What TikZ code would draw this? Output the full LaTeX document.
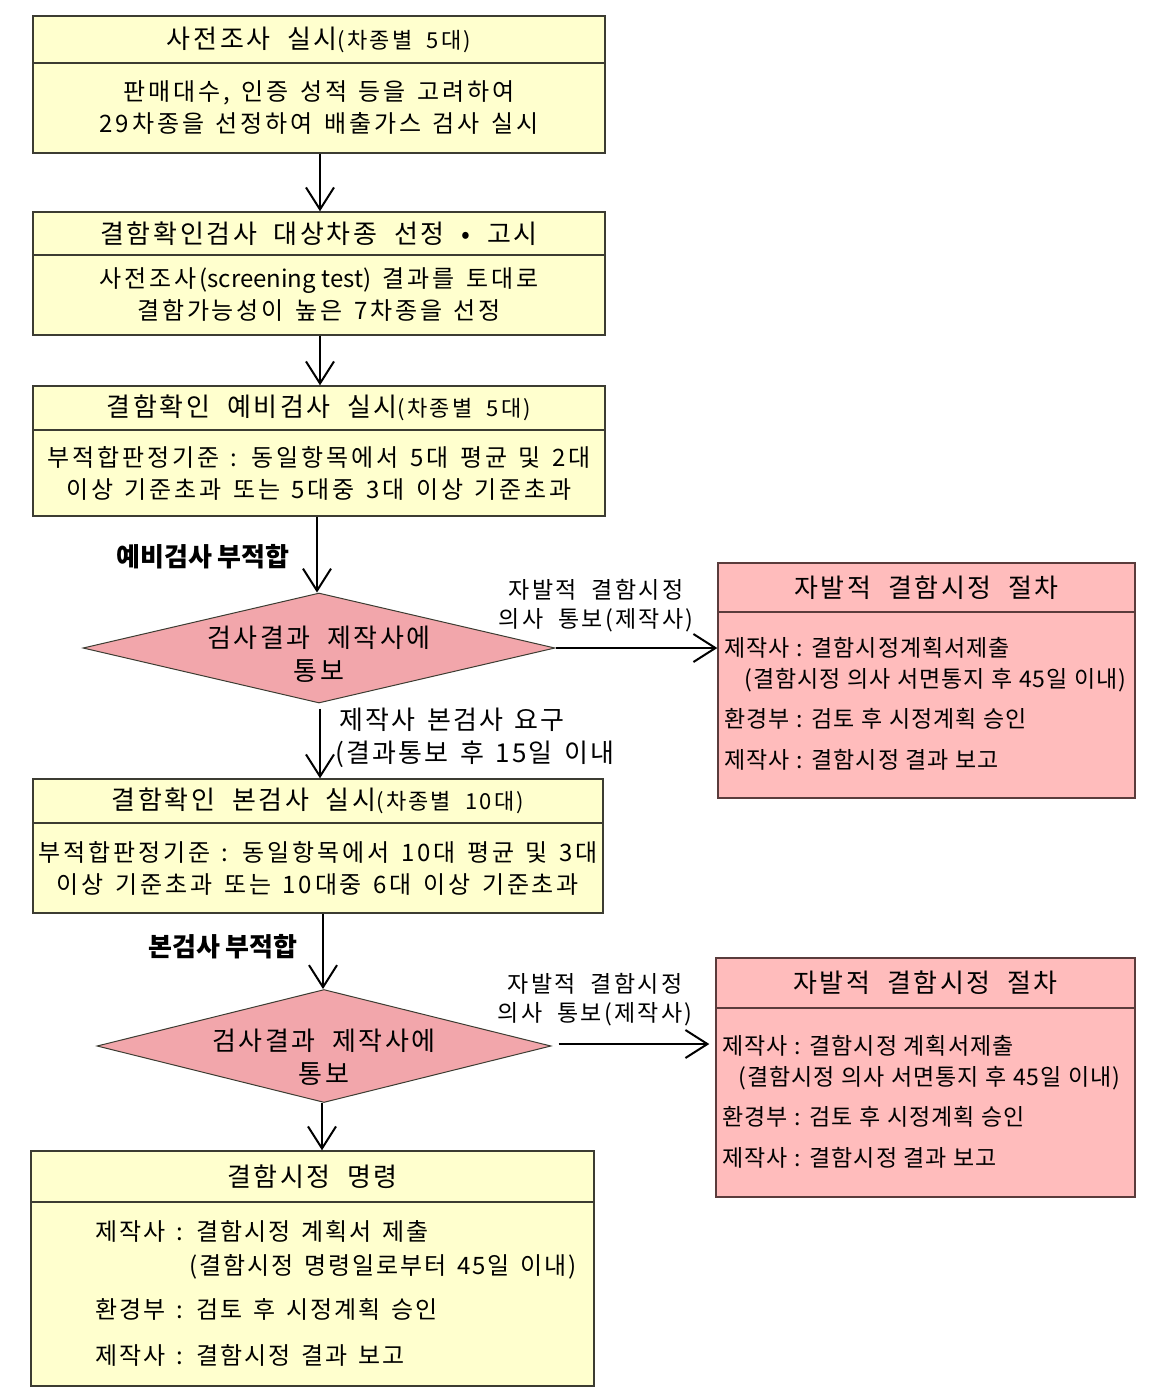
\documentclass[tikz,border=0pt]{standalone}
\usepackage{fontspec}
\setmainfont{Noto Sans CJK KR}
\newfontfamily\krbody[LetterSpace=12,WordSpace=1.4]{Noto Sans CJK KR}
\newfontfamily\krwide[LetterSpace=10,WordSpace=2]{Noto Sans CJK KR}
\newfontfamily\krlist[LetterSpace=4,WordSpace=1.1]{Noto Sans CJK KR}
\newfontfamily\krorder[LetterSpace=8,WordSpace=1.5]{Noto Sans CJK KR}
\usetikzlibrary{shapes}
\usetikzlibrary{arrows.meta}
\usetikzlibrary{calc}
\definecolor{FCYellow}{RGB}{255,255,206}
\definecolor{FCPink}{RGB}{255,188,188}
\definecolor{FCDia}{RGB}{242,166,171}
\definecolor{FCLine}{RGB}{60,60,50}
\definecolor{FCPinkLine}{RGB}{90,60,60}

\begin{document}
\begin{tikzpicture}[x=0.5pt,y=-0.5pt,
		box/.style={draw=FCLine,line width=0.7pt,inner sep=0pt,align=center},
		ybox/.style={box,fill=FCYellow},
		pbox/.style={box,draw=FCPinkLine,fill=FCPink},
		dia/.style={diamond,draw=FCLine,line width=0.5pt,fill=FCDia,inner sep=0pt},
		titletext/.style={font=\krwide\fontsize{13}{16.5}\selectfont},
		bodytext/.style={font=\krbody\fontsize{12}{16}\selectfont},
		listtext/.style={font=\krlist\fontsize{11.5}{15.5}\selectfont,inner sep=0pt,align=left,anchor=west},
		notetext/.style={font=\krwide\fontsize{11.5}{14.5}\selectfont,align=center},
		failtext/.style={font=\bfseries\fontsize{13}{15}\selectfont},
		flow/.style={line width=1pt,-{Straight Barb[length=11pt,width=14pt]}},
	]
	\useasboundingbox (0,0) rectangle (1154,1394);
	
	% main column
	\node[ybox,titletext,minimum width=286pt,minimum height=23.5pt] (t1) at (319,39.5) {사전조사 실시{\fontsize{11}{12}\selectfont(차종별 5대)}};
	\node[ybox,bodytext,minimum width=286pt,minimum height=45pt] (b1) at (319,108) {판매대수, 인증 성적 등을 고려하여\\29차종을 선정하여 배출가스 검사 실시};
	
	\node[ybox,titletext,minimum width=286pt,minimum height=21.5pt] (t2) at (319,233.5) {결함확인검사 대상차종 선정 • 고시};
	\node[ybox,bodytext,minimum width=286pt,minimum height=40pt] (b2) at (319,295) {사전조사({\normalfont screening test}) 결과를 토대로\\결함가능성이 높은 7차종을 선정};
	
	\node[ybox,titletext,minimum width=286pt,minimum height=22pt] (t3) at (319,408) {결함확인 예비검사 실시{\fontsize{11}{12}\selectfont(차종별 5대)}};
	\node[ybox,bodytext,minimum width=286pt,minimum height=43pt] (b3) at (319,473) {부적합판정기준 : 동일항목에서 5대 평균 및 2대\\이상 기준초과 또는 5대중 3대 이상 기준초과};
	
	\node[dia,minimum width=236pt,minimum height=55pt] (d1) at (319,648) {};
	\node[titletext,align=center] (d1txt) at ($(d1)+(0,6)$) {검사결과 제작사에\\통보};
	
	\node[ybox,titletext,minimum width=285pt,minimum height=22pt] (t4) at (318,801) {결함확인 본검사 실시{\fontsize{11}{12}\selectfont(차종별 10대)}};
	\node[ybox,bodytext,minimum width=285pt,minimum height=45pt] (b4) at (318,868) {부적합판정기준 : 동일항목에서 10대 평균 및 3대\\이상 기준초과 또는 10대중 6대 이상 기준초과};
	
	\node[dia,minimum width=227pt,minimum height=56.5pt] (d2) at (324,1046) {};
	\node[titletext,align=center] (d2txt) at ($(d2)+(0,11)$) {검사결과 제작사에\\통보};
	
	\node[ybox,titletext,minimum width=281.5pt,minimum height=25.5pt] (t5) at (312.5,1176.5) {결함시정 명령};
	\node[ybox,minimum width=281.5pt,minimum height=92pt] (b5) at (312.5,1294) {};
	\node[listtext,font=\krorder\fontsize{12}{17}\selectfont] (b5txt) at (95,1293) {제작사 : 결함시정 계획서 제출\\\hspace*{47pt}(결함시정 명령일로부터 45일 이내)\\[5pt]환경부 : 검토 후 시정계획 승인\\[6pt]제작사 : 결함시정 결과 보고};
	
	% voluntary recall boxes
	\node[pbox,titletext,minimum width=208.5pt,minimum height=24.5pt] (r1t) at (926.5,587.5) {자발적 결함시정 절차};
	\node[pbox,minimum width=208.5pt,minimum height=93pt] (r1b) at (926.5,705) {};
	\node[listtext] (r1txt) at ($(r1b.west)+(7,-1)$) {제작사 : 결함시정계획서제출\\\hspace*{10pt}(결함시정 의사 서면통지 후 45일 이내)\\[4.5pt]환경부 : 검토 후 시정계획 승인\\[5pt]제작사 : 결함시정 결과 보고};
	
	\node[pbox,titletext,minimum width=209.5pt,minimum height=25pt] (r2t) at (925.5,983) {자발적 결함시정 절차};
	\node[pbox,minimum width=209.5pt,minimum height=94.5pt] (r2b) at (925.5,1102.5) {};
	\node[listtext] (r2txt) at ($(r2b.west)+(7,-1)$) {제작사 : 결함시정 계획서제출\\\hspace*{8pt}(결함시정 의사 서면통지 후 45일 이내)\\[4.5pt]환경부 : 검토 후 시정계획 승인\\[5pt]제작사 : 결함시정 결과 보고};
	
	% labels
	\node[failtext] (f1) at (203,557) {예비검사 부적합};
	\node[failtext] (f2) at (223,947) {본검사 부적합};
	\node[notetext] (n1) at (596,606) {자발적 결함시정\\의사 통보(제작사)};
	\node[notetext] (n2) at (595,1000) {자발적 결함시정\\의사 통보(제작사)};
	\node[align=left,anchor=west,inner sep=0pt,font=\krorder\fontsize{13}{16.5}\selectfont] (n3) at (335,738) {\hspace*{2pt}제작사 본검사 요구\\(결과통보 후 15일 이내};
	
	% arrows
	\draw[flow] (b1.south -| 320,0) -- (t2.north -| 320,0);
	\draw[flow] (b2.south -| 320,0) -- (t3.north -| 320,0);
	\draw[flow] (b3.south -| 317,0) -- (d1.north -| 317,0);
	\draw[flow] ($(d1.south)+(1,5)$) -- (t4.north -| 320,0);
	\draw[flow] (b4.south -| 323,0) -- (d2.north -| 323,0);
	\draw[flow] (d2.south -| 322,0) -- (t5.north -| 322,0);
	\draw[flow] (d1.east) -- (d1.east -| r1b.west);
	\draw[flow] ($(d2.east)+(7,-2)$) -- ($(d2.east -| r2b.west)+(-6,-2)$);
\end{tikzpicture}
\end{document}
